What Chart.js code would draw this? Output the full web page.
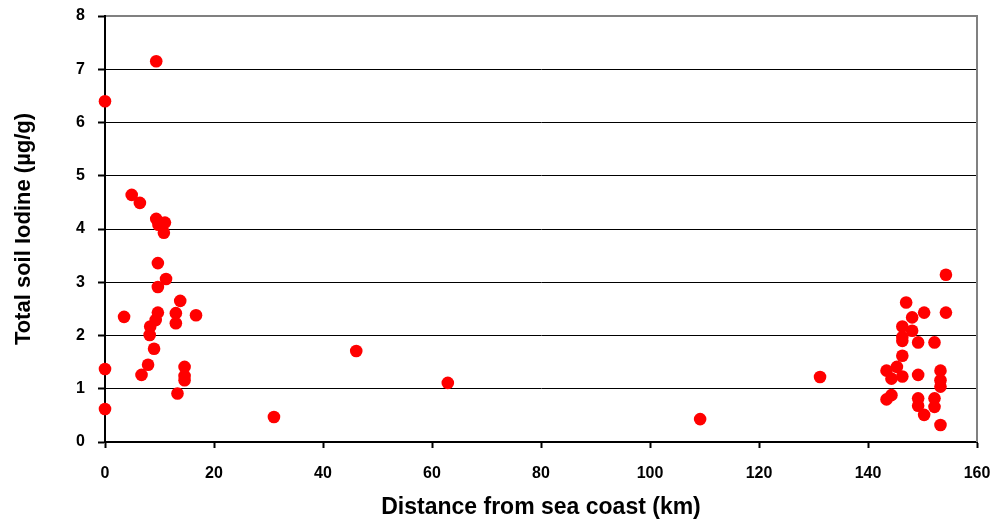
<!DOCTYPE html>
<html>
<head>
<meta charset="utf-8">
<script src="https://cdn.jsdelivr.net/npm/chart.js@4/dist/chart.umd.min.js"></script>
<style>
html,body{margin:0;padding:0;background:#fff;}
#wrap{width:998px;height:522px;position:relative;}
</style>
</head>
<body>
<div id="wrap"><canvas id="c" width="998" height="522"></canvas></div>
<script>
// Distance from sea coast (km)
const distanceKm = [
  0, 9.4, 0, 0, 4.9, 6.4,
  9.4, 11.0, 10.8, 9.8,
  9.7, 11.2, 9.7, 13.8, 3.5, 9.7, 9.3, 8.3, 13.0, 13.0, 16.7, 8.2, 9.0,
  7.9, 6.7, 14.6, 14.6, 14.6, 13.3,
  31.0, 46.1, 62.9, 109.2, 131.2,
  154.3, 147.0, 150.3, 154.3, 148.1, 146.3, 148.1, 146.3, 146.3, 149.2, 152.2,
  146.3, 143.4, 145.3, 144.3, 146.3, 149.2, 153.3, 153.3, 153.3,
  143.4, 144.3, 149.2, 149.2, 152.2, 152.2, 150.3, 153.3
];
// Total soil iodine (µg/g)
const iodine = [
  6.40, 7.15, 1.37, 0.62, 4.64, 4.49,
  4.19, 4.12, 3.93, 4.08,
  3.36, 3.06, 2.91, 2.65, 2.35, 2.43, 2.29, 2.17, 2.42, 2.23, 2.38, 2.01, 1.75,
  1.45, 1.26, 1.41, 1.24, 1.16, 0.91,
  0.47, 1.71, 1.11, 0.43, 1.22,
  3.14, 2.62, 2.43, 2.43, 2.34, 2.17, 2.09, 1.97, 1.90, 1.87, 1.87,
  1.62, 1.34, 1.41, 1.19, 1.23, 1.26, 1.34, 1.16, 1.04,
  0.80, 0.88, 0.82, 0.68, 0.82, 0.66, 0.51, 0.32
];
const xTicks = [0, 20, 40, 60, 80, 100, 120, 140, 160];
const yTicks = [0, 1, 2, 3, 4, 5, 6, 7, 8];
const xTitle = 'Distance from sea coast (km)';
const yTitle = 'Total soil Iodine (µg/g)';

const points = distanceKm.map((d, i) => ({x: d, y: iodine[i]}));
const FONT = '"Liberation Sans", Arial, sans-serif';

const frame = {
  id: 'frame',
  afterDatasetsDraw(chart) {
    const a = chart.chartArea, ctx = chart.ctx;
    ctx.save();
    ctx.strokeStyle = '#808080';
    ctx.lineWidth = 2;
    ctx.beginPath();
    ctx.moveTo(a.left + 1, a.top);
    ctx.lineTo(a.right, a.top);
    ctx.lineTo(a.right, a.bottom);
    ctx.stroke();
    ctx.restore();
  }
};

new Chart(document.getElementById('c'), {
  type: 'scatter',
  data: {
    datasets: [{
      data: points,
      backgroundColor: '#ff0000',
      borderColor: '#ff0000',
      pointRadius: 6.3,
      pointHoverRadius: 6.3,
      borderWidth: 0,
      clip: false
    }]
  },
  options: {
    responsive: false,
    animation: false,
    events: [],
    layout: {padding: {top: 16, right: 21, left: 0, bottom: 0}},
    plugins: {legend: {display: false}, tooltip: {enabled: false}},
    scales: {
      x: {
        type: 'linear',
        min: 0, max: 160,
        afterBuildTicks(s) { s.ticks = xTicks.map(v => ({value: v})); },
        afterFit(s) { s.height = 80; s.paddingLeft = 0; s.paddingRight = 0; },
        grid: {display: true, drawOnChartArea: false, color: '#000', tickLength: 6, tickWidth: 2},
        border: {color: '#000', width: 2},
        ticks: {color: '#000', font: {family: FONT, size: 16, weight: 'bold'}, padding: 16, maxRotation: 0},
        title: {display: true, text: xTitle, color: '#000', font: {family: FONT, size: 23, weight: 'bold'}, padding: {top: 0, bottom: 1}}
      },
      y: {
        type: 'linear',
        min: 0, max: 8,
        afterBuildTicks(s) { s.ticks = yTicks.map(v => ({value: v})); },
        afterFit(s) { s.width = 105; s.paddingTop = 0; s.paddingBottom = 0; },
        grid: {
          color: (c) => (c.tick && c.tick.value === 8) ? '#808080' : '#000',
          lineWidth: 1, tickLength: 7, tickWidth: 2, tickColor: '#000'
        },
        border: {color: '#000', width: 2},
        ticks: {color: '#000', font: {family: FONT, size: 16, weight: 'bold'}, padding: 13},
        title: {display: true, text: yTitle, color: '#000', font: {family: FONT, size: 22, weight: 'bold'}, padding: {top: 11, bottom: 0}}
      }
    }
  },
  plugins: [frame]
});
</script>
</body>
</html>
